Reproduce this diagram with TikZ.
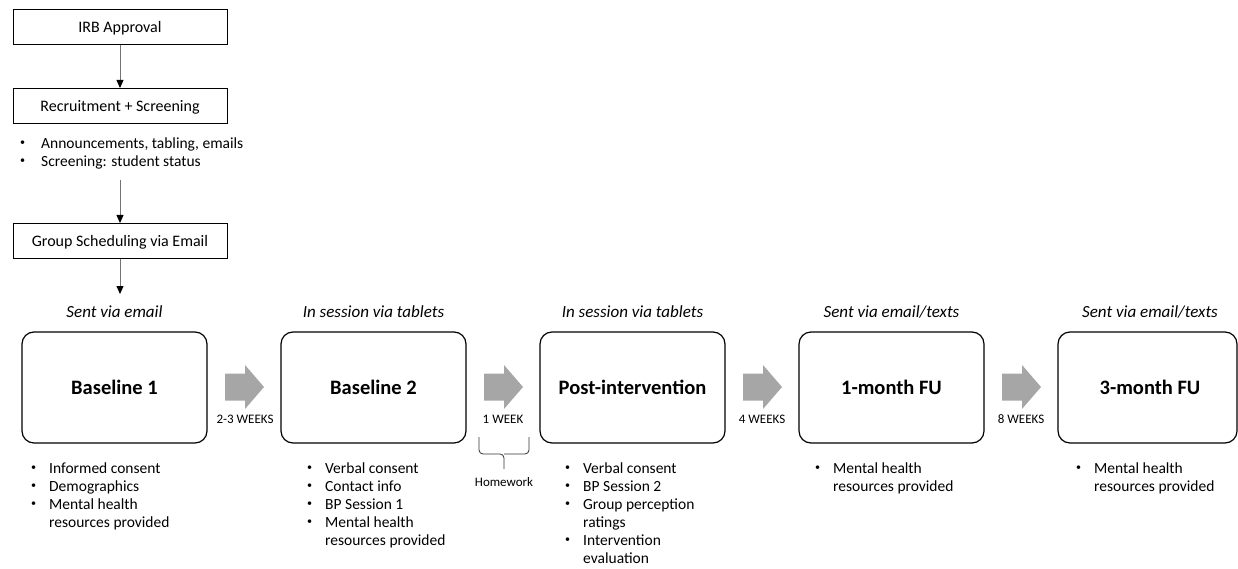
\documentclass[tikz,border=0pt]{standalone}
\usepackage{fontspec}
\usepackage{graphicx}
\setmainfont{Carlito}
\usetikzlibrary{arrows.meta}
\tikzset{
  smallbox/.style={draw, line width=1pt, minimum width=214pt, minimum height=35pt, inner sep=0pt},
  smalltext/.style={font=\fontsize{16}{19}\selectfont, inner sep=0pt, anchor=base},
  bigbox/.style={draw, line width=1.2pt, rounded corners=12pt, minimum height=111pt, inner sep=0pt},
  title/.style={font=\fontsize{20.5}{24}\selectfont\bfseries, inner sep=0pt, anchor=base},
  conn/.style={draw=black!55, line width=0.8pt, -{Triangle[length=8pt,width=7pt,color=black]}},
  caption/.style={font=\fontsize{17}{20}\selectfont\itshape, inner sep=0pt, anchor=base},
  weeks/.style={font=\fontsize{13}{15}\selectfont, inner sep=0pt, anchor=base},
  blist/.style={anchor=north west, inner sep=0pt, font=\fontsize{15.5}{18}\selectfont},
  grayarrow/.style={fill=black!35, draw=none},
  bracepath/.style={draw=black!80, line width=0.8pt, rounded corners=4pt},
}
\newcommand\smallbul{\raisebox{0.3ex}{\scalebox{0.65}{\textbullet}}}
\newcommand\bul{\makebox[17pt][l]{\hspace*{-1pt}\smallbul}}
\newcommand\bulw{\makebox[20pt][l]{\hspace*{-1pt}\smallbul}}
\newcommand\ind{\hspace*{17pt}}
\begin{document}
\begin{tikzpicture}[x=1pt,y=-1pt]
\useasboundingbox (0,0) rectangle (1238,569);
% top flow
\node[smallbox] (irb) at (120,27.5) {};
\node[smalltext] (irbt) at (120,33) {IRB Approval};
\node[smallbox] (rec) at (120,106) {};
\node[smalltext] (rect) at (120,111.5) {Recruitment + Screening};
\node[blist] (recl) at (21,135.4) {\begin{tabular}[t]{@{}l@{}}
\bulw Announcements, tabling, emails\\
\bulw Screening: student status
\end{tabular}};
\node[smallbox] (grp) at (120,241) {};
\node[smalltext] (grpt) at (120,246.5) {Group Scheduling via Email};
\draw[conn] (irb.south) -- (rec.north);
\coordinate (recend) at (120,180);
\draw[conn] (recend) -- (grp.north);
\coordinate (grpend) at (120,294);
\draw[conn] (grp.south) -- (grpend);
% big boxes
\node[bigbox, minimum width=185pt] (b1) at (114.5,387.5) {};
\node[bigbox, minimum width=185pt] (b2) at (373.5,387.5) {};
\node[bigbox, minimum width=185pt] (post) at (632.5,387.5) {};
\node[bigbox, minimum width=185pt] (fu1) at (891.5,387.5) {};
\node[bigbox, minimum width=179pt] (fu3) at (1147.5,387.5) {};
\node[title] (b1t) at (114.5,394) {Baseline 1};
\node[title] (b2t) at (373.5,394) {Baseline 2};
\node[title] (postt) at (632.5,394) {Post-intervention};
\node[title] (fu1t) at (891.5,394) {1-month FU};
\node[title] (fu3t) at (1150,394) {3-month FU};
% captions
\node[caption] (c1) at (114.5,317) {Sent via email};
\node[caption] (c2) at (373.5,317) {In session via tablets};
\node[caption] (c3) at (632.5,317) {In session via tablets};
\node[caption] (c4) at (891.5,317) {Sent via email/texts};
\node[caption] (c5) at (1150,317) {Sent via email/texts};
% gray arrows
\foreach \a in {225,484,743,1002}{
  \fill[grayarrow] (\a,373.5) -- (\a+20,373.5) -- (\a+20,365) -- (\a+39,387) -- (\a+20,409) -- (\a+20,400.5) -- (\a,400.5) -- cycle;
}
\node[weeks] (w1) at (245,423) {2-3 WEEKS};
\node[weeks] (w2) at (503,423) {1 WEEK};
\node[weeks] (w3) at (762,423) {4 WEEKS};
\node[weeks] (w4) at (1021,423) {8 WEEKS};
% brace
\draw[bracepath] (479,437) |- (504,454) -- (504,469);
\draw[bracepath] (529,437) |- (504,454);
\node[weeks] (hw) at (504,486) {Homework};
% bullet lists
\node[blist] (l1) at (32,460.4) {\begin{tabular}[t]{@{}l@{}}
\bul Informed consent\\
\bul Demographics\\
\bul Mental health\\
\ind resources provided
\end{tabular}};
\node[blist] (l2) at (308,460.4) {\begin{tabular}[t]{@{}l@{}}
\bul Verbal consent\\
\bul Contact info\\
\bul BP Session 1\\
\bul Mental health\\
\ind resources provided
\end{tabular}};
\node[blist] (l3) at (566,460.4) {\begin{tabular}[t]{@{}l@{}}
\bul Verbal consent\\
\bul BP Session 2\\
\bul Group perception\\
\ind ratings\\
\bul Intervention\\
\ind evaluation
\end{tabular}};
\node[blist] (l4) at (816,460.4) {\begin{tabular}[t]{@{}l@{}}
\bul Mental health\\
\ind resources provided
\end{tabular}};
\node[blist] (l5) at (1077,460.4) {\begin{tabular}[t]{@{}l@{}}
\bul Mental health\\
\ind resources provided
\end{tabular}};
\end{tikzpicture}
\end{document}
